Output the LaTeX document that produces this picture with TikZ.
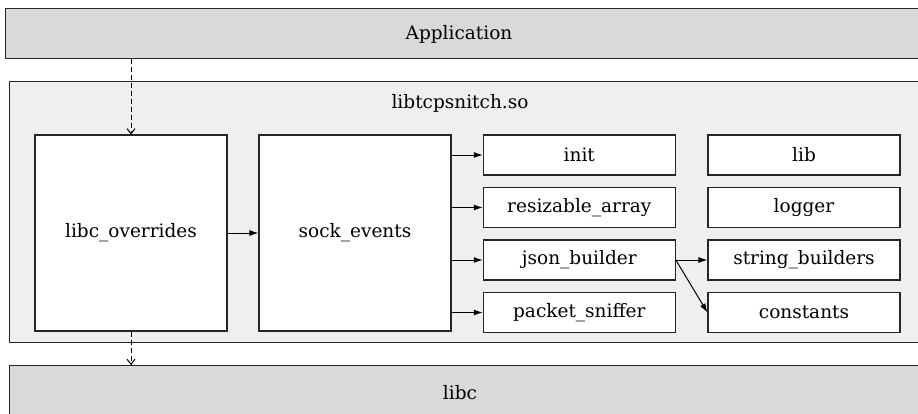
\documentclass[tikz,border=0pt]{standalone}
\usepackage{fontspec}
\setmainfont{DejaVu Serif}
\usetikzlibrary{arrows.meta}
\definecolor{appgray}{HTML}{D9D9D9}
\definecolor{libgray}{HTML}{EFEFEF}
\tikzset{
  lbl/.style={font=\fontsize{18.5}{22}\selectfont},
  layer/.style={draw=black!85, line width=1.3pt, fill=appgray, inner sep=0pt},
  modbox/.style={draw=black!85, line width=1.1pt, fill=white, inner sep=0pt, lbl},
  conn/.style={line width=1pt, -{Latex[length=9pt,width=6pt]}},
  dconn/.style={line width=1pt, dash pattern=on 5pt off 3pt, -{Straight Barb[length=5pt,width=8pt]}}
}
\begin{document}
\begin{tikzpicture}[x=1pt,y=-1pt]
\useasboundingbox (0,0) rectangle (918,413);
\clip (0,0) rectangle (918,413);
\fill[white] (0,0) rectangle (918,413);
% layers
\node[layer, minimum width=930pt, minimum height=50pt, anchor=north west] (app) at (5,8) {};
\node[lbl] at (459,34) (apptxt) {Application};
\node[layer, fill=libgray, minimum width=930pt, minimum height=261pt, anchor=north west] (so) at (9,81) {};
\node[lbl] at (460,103) (sotxt) {libtcpsnitch.so};
\node[layer, minimum width=930pt, minimum height=54pt, anchor=north west] (libc) at (9,365) {};
\node[lbl] at (460,393) (libctxt) {libc};
% modules
\node[modbox, minimum width=192pt, minimum height=196pt] (lo) at (131,233) {libc\_overrides};
\node[modbox, minimum width=192pt, minimum height=196pt] (se) at (355,233) {sock\_events};
\node[modbox, minimum width=192pt, minimum height=40pt] (init) at (579.3,155) {init};
\node[modbox, minimum width=192pt, minimum height=40pt] (ra) at (579.3,207.5) {resizable\_array};
\node[modbox, minimum width=192pt, minimum height=40pt] (jb) at (579.3,260) {json\_builder};
\node[modbox, minimum width=192pt, minimum height=40pt] (ps) at (579.3,312.5) {packet\_sniffer};
\node[modbox, minimum width=192pt, minimum height=40pt] (lib) at (804,155) {lib};
\node[modbox, minimum width=192pt, minimum height=40pt] (log) at (804,207.5) {logger};
\node[modbox, minimum width=192pt, minimum height=40pt] (sb) at (804,260) {string\_builders};
\node[modbox, minimum width=192pt, minimum height=40pt] (cs) at (804,312.5) {constants};
% connectors
\draw[dconn] (app.south -| lo.north) -- (lo.north);
\draw[dconn] (lo.south) -- (lo.south |- libc.north);
\draw[conn] (lo.east) -- (se.west);
\draw[conn] (se.east |- init.west) -- (init.west);
\draw[conn] (se.east |- ra.west) -- (ra.west);
\draw[conn] (se.east |- jb.west) -- (jb.west);
\draw[conn] (se.east |- ps.west) -- (ps.west);
\draw[conn] (jb.east) -- (sb.west);
\draw[conn] (jb.east) -- (cs.west);
\end{tikzpicture}
\end{document}
